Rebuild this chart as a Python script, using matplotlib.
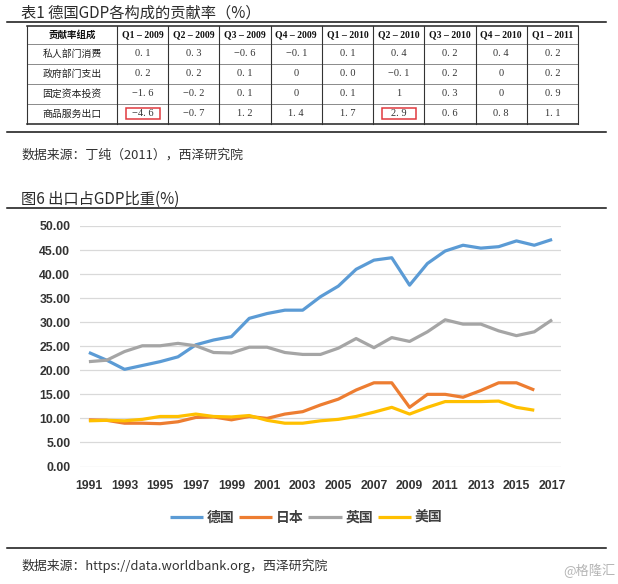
import matplotlib
matplotlib.use("Agg")
import matplotlib.pyplot as plt
from matplotlib.font_manager import FontProperties
from matplotlib.lines import Line2D
from matplotlib.patches import Rectangle

plt.rcParams['font.family'] = ['Noto Sans CJK SC', 'DejaVu Sans']

# ---------------- data ----------------
table_title = "表1 德国GDP各构成的贡献率（%）"
table_corner = "贡献率组成"
table_cols = ["Q1 – 2009", "Q2 – 2009", "Q3 – 2009", "Q4 – 2009", "Q1 – 2010",
              "Q2 – 2010", "Q3 – 2010", "Q4 – 2010", "Q1 – 2011"]
table_rows = ["私人部门消费", "政府部门支出", "固定资本投资", "商品服务出口"]
row_private = ["0.1", "0.3", "-0.6", "-0.1", "0.1", "0.4", "0.2", "0.4", "0.2"]
row_gov = ["0.2", "0.2", "0.1", "0", "0.0", "-0.1", "0.2", "0", "0.2"]
row_invest = ["-1.6", "-0.2", "0.1", "0", "0.1", "1", "0.3", "0", "0.9"]
row_export = ["-4.6", "-0.7", "1.2", "1.4", "1.7", "2.9", "0.6", "0.8", "1.1"]
table_values = [row_private, row_gov, row_invest, row_export]
highlight_cells = [(3, 0), (3, 5)]
source1 = "数据来源：丁纯（2011），西泽研究院"

chart_title = "图6 出口占GDP比重(%)"
years = list(range(1991, 2018))
germany = [23.7, 22.1, 20.2, 21.0, 21.8, 22.8, 25.3, 26.3, 27.0, 30.8, 31.8, 32.5, 32.5,
           35.3, 37.5, 41.0, 42.9, 43.4, 37.7, 42.2, 44.8, 46.0, 45.4, 45.7, 46.9, 46.0, 47.2]
uk = [21.8, 22.1, 23.9, 25.1, 25.1, 25.6, 25.1, 23.7, 23.6, 24.8, 24.8, 23.7, 23.3,
      23.3, 24.6, 26.6, 24.7, 26.8, 26.0, 28.0, 30.5, 29.6, 29.6, 28.2, 27.2, 28.0, 30.5]
japan = [9.7, 9.6, 9.0, 9.0, 8.9, 9.3, 10.2, 10.3, 9.7, 10.4, 10.0, 10.9, 11.4,
         12.8, 14.0, 15.9, 17.4, 17.4, 12.3, 15.0, 15.0, 14.4, 15.8, 17.4, 17.4, 15.9]
usa = [9.5, 9.6, 9.5, 9.8, 10.4, 10.4, 10.9, 10.4, 10.3, 10.6, 9.6, 9.0, 9.0,
       9.5, 9.8, 10.4, 11.3, 12.3, 10.9, 12.3, 13.5, 13.5, 13.5, 13.6, 12.3, 11.7]
series_names = ["德国", "日本", "英国", "美国"]
series_colors = ["#5B9BD5", "#ED7D31", "#A5A5A5", "#FFC000"]
source2 = "数据来源：https://data.worldbank.org，西泽研究院"
watermark = "@格隆汇"

# ---------------- figure ----------------
W, H = 618, 584
fig = plt.figure(figsize=(W / 100, H / 100), dpi=100)
fig.patch.set_facecolor("white")

ov = fig.add_axes([0, 0, 1, 1])
ov.set_xlim(0, W)
ov.set_ylim(H, 0)
ov.axis("off")

txt = "#2b2b2b"
# table title and rules
ov.text(21, 13, table_title, fontsize=11, va="center", ha="left", color=txt)
for yy in (22, 132, 208, 548):
    ov.add_line(Line2D([7, 606], [yy, yy], color="#111111", lw=1.1))

# table grid
x_left, x_first = 27, 117
col_w = (578 - x_first) / len(table_cols)
col_edges = [x_left, x_first] + [x_first + col_w * (i + 1) for i in range(len(table_cols))]
row_edges = [25.5, 44, 63.5, 83.5, 103.5, 124]
for i, yy in enumerate(row_edges):
    lw = 1.1 if i in (0, len(row_edges) - 1) else 0.6
    c = "#222222" if i in (0, len(row_edges) - 1) else "#777777"
    ov.add_line(Line2D([col_edges[0], col_edges[-1]], [yy, yy], color=c, lw=lw))
for xx in col_edges:
    ov.add_line(Line2D([xx, xx], [row_edges[0], row_edges[-1]], color="#333333", lw=0.8))

serif = ["Liberation Serif", "DejaVu Serif"]
ov.text((col_edges[0] + col_edges[1]) / 2, (row_edges[0] + row_edges[1]) / 2, table_corner,
        fontsize=6.8, fontweight="bold", ha="center", va="center", color="#111111")
for j, c in enumerate(table_cols):
    cx = (col_edges[j + 1] + col_edges[j + 2]) / 2
    ov.text(cx, (row_edges[0] + row_edges[1]) / 2, c, family=serif, fontsize=7,
            fontweight="bold", ha="center", va="center", color="#111111")
for i, r in enumerate(table_rows):
    cy = (row_edges[i + 1] + row_edges[i + 2]) / 2
    ov.text((col_edges[0] + col_edges[1]) / 2, cy, r,
            fontsize=7.1, ha="center", va="center", color="#222222")
    for j, v in enumerate(table_values[i]):
        cx = (col_edges[j + 1] + col_edges[j + 2]) / 2
        s = v.replace("-", "−").replace(".", ". ")
        ov.text(cx, cy, s, family=serif, fontsize=7.5, ha="center", va="center", color="#333333")
for (ri, cj) in highlight_cells:
    cx = (col_edges[cj + 1] + col_edges[cj + 2]) / 2
    cy = (row_edges[ri + 1] + row_edges[ri + 2]) / 2
    ov.add_patch(Rectangle((cx - 17, cy - 5.5), 34, 11, fill=False, ec="#E0393E", lw=1.1))

ov.text(21, 155, source1, fontsize=9.3, va="center", ha="left", color="#333333")
ov.text(21, 199, chart_title, fontsize=11, va="center", ha="left", color=txt)
ov.text(21, 566, source2, fontsize=9.3, va="center", ha="left", color="#333333")
ov.text(616, 571, watermark, fontsize=9.5, va="center", ha="right", color="#b5b5b5")

# ---------------- line chart ----------------
ax = fig.add_axes([80 / W, 1 - 466.5 / H, 481 / W, 240.5 / H])
ax.set_facecolor("none")
lines = []
for name, vals, col in zip(series_names, [germany, japan, uk, usa], series_colors):
    ln, = ax.plot(years[:len(vals)], vals, color=col, lw=2.3, label=name,
                  solid_joinstyle="round", solid_capstyle="butt")
    lines.append(ln)
ax.set_xlim(1990.5, 2017.5)
ax.set_ylim(0, 50)
yt = list(range(0, 51, 5))
ax.set_yticks(yt)
ax.set_yticklabels([f"{v:.2f}" for v in yt])
ax.set_xticks(years[::2])
ax.grid(axis="y", color="#D9D9D9", lw=0.9)
ax.set_axisbelow(True)
for s in ax.spines.values():
    s.set_visible(False)
ax.tick_params(axis="both", length=0, colors="#333333")
ax.tick_params(axis="y", pad=7)
ax.tick_params(axis="x", pad=10)
for lab in ax.get_yticklabels() + ax.get_xticklabels():
    lab.set_family(["Liberation Sans", "DejaVu Sans"])
    lab.set_fontweight("bold")
    lab.set_fontsize(8.8)

fig.legend(handles=lines, labels=series_names, loc="center",
           bbox_to_anchor=(306 / W, 1 - 518 / H), ncol=4, frameon=False,
           prop=FontProperties(family=["Noto Sans CJK SC"], weight="bold", size=10),
           labelcolor="#404040", handlelength=2.4, handletextpad=0.25, columnspacing=0.35)

fig.savefig("out.png", dpi=100, facecolor="white")
